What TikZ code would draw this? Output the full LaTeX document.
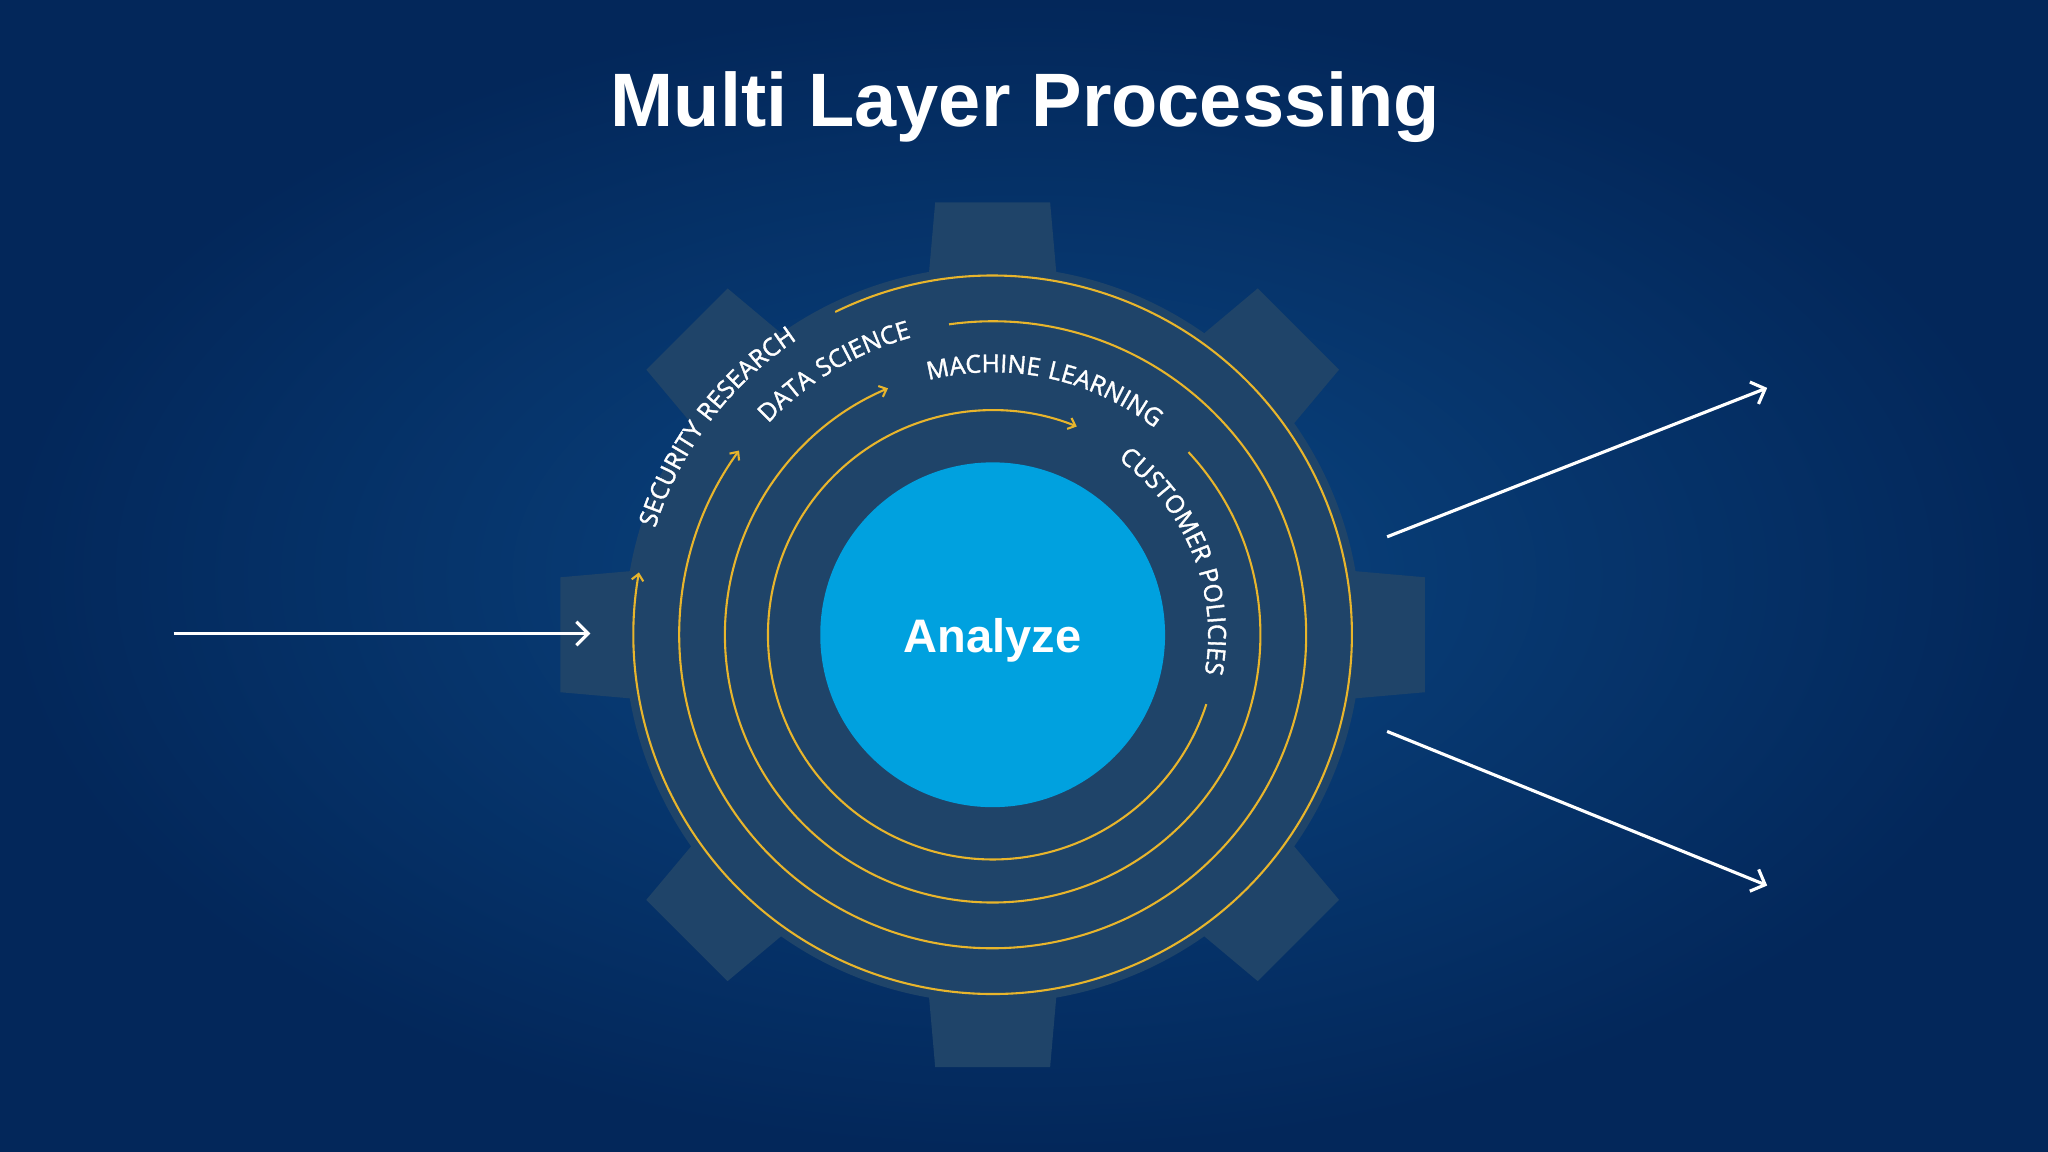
\documentclass[tikz,border=0pt]{standalone}
\usepackage{fontspec}
\setmainfont{Liberation Sans}
\newfontfamily\ringfont[LetterSpace=6,FakeBold=1.5]{Open Sans}
\usetikzlibrary{arrows.meta,decorations.text}
\definecolor{bgin}{HTML}{0A4682}
\definecolor{bgout}{HTML}{03275A}
\definecolor{gearc}{HTML}{1F4469}
\definecolor{ringc}{HTML}{E8B52C}
\definecolor{corec}{HTML}{00A1DF}
\tikzset{
  gear/.style={fill=gearc},
  ring/.style={draw=ringc, line width=1.6pt, -{Straight Barb[length=5pt,width=9pt]}},
  flow/.style={draw=white, line width=2.4pt, -{Straight Barb[length=9pt,width=18pt]}},
  ringtext/.style={decorate, decoration={text along path, text align=center,
     text color=white, text={|\ringfont\fontsize{19}{19}\selectfont|#1}}}
}
\begin{document}
\begin{tikzpicture}[x=1pt,y=1pt]
    \useasboundingbox (0,0) rectangle (1568,882);
    % background
    \fill[inner color=bgin, outer color=bgout] (0,0) rectangle (1568,882);
    \node[text=white, font=\bfseries\fontsize{58}{58}\selectfont] (title) at (785,800) {Multi Layer Processing};

    \begin{scope}[shift={(760,396)}]
    % gear
    \foreach \a in {0,45,...,315}
        \fill[gear, rotate=\a] (-52,240) -- (-44,331) -- (44,331) -- (52,240) -- cycle;
    \fill[gear] (0,0) circle (282);
    % rings
    \draw[ring] (116:275) arc[start angle=116, end angle=-190, radius=275];
    \draw[ring] (98:240) arc[start angle=98, end angle=-216, radius=240];
    \draw[ring] (43:205) arc[start angle=43, end angle=-247, radius=205];
    \draw[ring] (-18:172) arc[start angle=-18, end angle=-292, radius=172];
    % ring labels
    \path[ringtext={SECURITY RESEARCH}] (172:271) arc[start angle=172, end angle=114, radius=271];
    \path[ringtext={DATA SCIENCE}] (146:236) arc[start angle=146, end angle=96, radius=236];
    \path[ringtext={MACHINE LEARNING}] (116:201) arc[start angle=116, end angle=40, radius=201];
    \path[ringtext={CUSTOMER POLICIES}] (66:165) arc[start angle=66, end angle=-22, radius=165];
    \end{scope}

    \node[circle, fill=corec, minimum size=264pt, inner sep=0pt] (core) at (760,396) {};
    \node[text=white, font=\bfseries\fontsize{36}{36}\selectfont] (analyze) at ([yshift=-4pt]core.center) {Analyze};

    % flows
    \coordinate (inA) at (133,397);
    \coordinate (inB) at (452,397);
    \coordinate (upA) at (1062,471);
    \coordinate (upB) at (1353,585);
    \coordinate (dnA) at (1062,322);
    \coordinate (dnB) at (1353,204);
    \draw[flow] (inA) -- (inB);
    \draw[flow] (upA) -- (upB);
    \draw[flow] (dnA) -- (dnB);
\end{tikzpicture}
\end{document}
